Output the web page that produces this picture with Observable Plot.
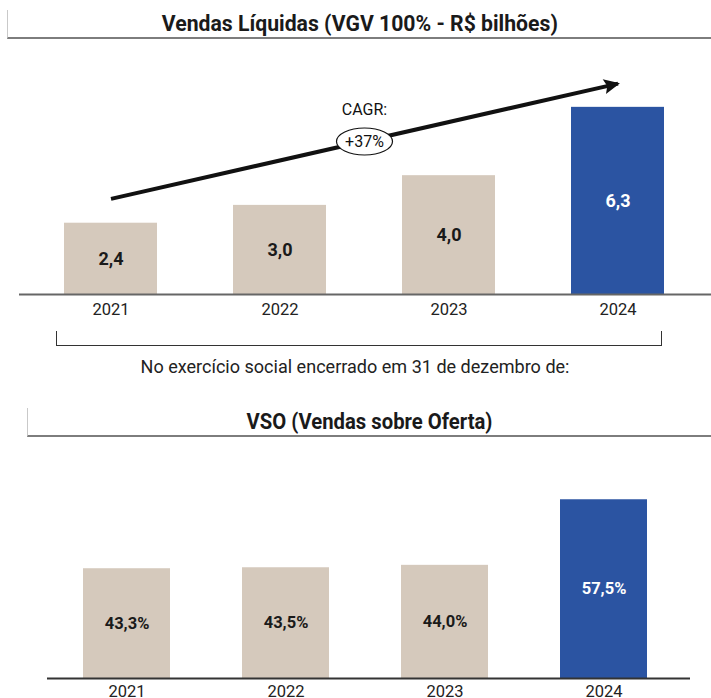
<!DOCTYPE html>
<html>
<head>
<meta charset="utf-8">
<script src="https://cdn.jsdelivr.net/npm/d3@7"></script>
<script src="https://cdn.jsdelivr.net/npm/@observablehq/plot@0.6"></script>
<style>
  body { margin: 0; background: #fff; font-family: Roboto, "Liberation Sans", sans-serif; }
  #wrap { position: relative; width: 711px; height: 698px; overflow: hidden; background: #fff; }
  .title { position: absolute; box-sizing: border-box; border-left: 1px solid #c9c9c9; border-bottom: 2.5px solid #7d7d7d;
           text-align: center; font-weight: 700; font-size: 21.5px; color: #1a1a1a; line-height: 28px; white-space: nowrap; }
  .fit { display: inline-block; transform-origin: center center; white-space: nowrap; }
  .caption { position: absolute; left: 0; width: 711px; text-align: center; font-size: 18px; color: #222; white-space: nowrap; }
  .bracket { position: absolute; box-sizing: border-box; border: 1.3px solid #333; border-top: none; }
  .plot { position: absolute; left: 0; }
</style>
</head>
<body>
<div id="wrap">
  <div class="title" style="left:7px;top:10px;width:704px;height:29px;"><span class="fit" data-w="396">Vendas Líquidas (VGV 100% - R$ bilhões)</span></div>
  <div id="p1" class="plot" style="top:40px;"></div>
  <div class="bracket" style="left:56px;top:331px;width:606px;height:15px;"></div>
  <div class="caption" style="top:356px;"><span class="fit" data-w="429">No exercício social encerrado em 31 de dezembro de:</span></div>
  <div class="title" style="left:27px;top:408px;width:684px;height:29px;"><span class="fit" data-w="246">VSO (Vendas sobre Oferta)</span></div>
  <div id="p2" class="plot" style="top:440px;"></div>
</div>
<script>
// ---- data ----
const years = ["2021", "2022", "2023", "2024"];
const vendas = [2.4, 3.0, 4.0, 6.3];
const vendasLabels = ["2,4", "3,0", "4,0", "6,3"];
const vso = [43.3, 43.5, 44.0, 57.5];
const vsoLabels = ["43,3%", "43,5%", "44,0%", "57,5%"];
const highlighted = [false, false, false, true];
const cagrLabel = "CAGR:";
const cagrValue = "+37%";
// annotation anchors (data units of the first chart)
const cagrArrow = [{from: "2021", to: "2024", y1: 3.22, y2: 7.1}];
const cagrTextY = [6.22];
const cagrBadgeY = [5.15];

const beige = "#d5c9bc";
const blue = "#2b54a2";

const d1 = years.map((year, i) => ({year, v: vendas[i], label: vendasLabels[i], hi: highlighted[i]}));
const d2 = years.map((year, i) => ({year, v: vso[i], label: vsoLabels[i], hi: highlighted[i]}));

// ellipse symbol for the CAGR badge
const ellipse = {
  draw(ctx) {
    const rx = 28, ry = 13.5, k = 0.5523;
    ctx.moveTo(rx, 0);
    ctx.bezierCurveTo(rx, k * ry, k * rx, ry, 0, ry);
    ctx.bezierCurveTo(-k * rx, ry, -rx, k * ry, -rx, 0);
    ctx.bezierCurveTo(-rx, -k * ry, -k * rx, -ry, 0, -ry);
    ctx.bezierCurveTo(k * rx, -ry, rx, -k * ry, rx, 0);
    ctx.closePath();
  }
};
// filled arrowhead, tip at the origin, pointing right
const arrowHead = {
  draw(ctx) {
    ctx.moveTo(2, 0);
    ctx.lineTo(-14, -7.5);
    ctx.lineTo(-11, 0);
    ctx.lineTo(-14, 7.5);
    ctx.closePath();
  }
};

const p1 = Plot.plot({
  width: 711, height: 290,
  marginTop: 0, marginBottom: 36, marginLeft: 26, marginRight: 9,
  x: {domain: years, paddingInner: 0.45, paddingOuter: 0.225, label: null, tickSize: 0, tickPadding: 9},
  y: {domain: [0, 8.55], axis: null},
  color: {type: "identity"},
  style: {fontFamily: "Roboto, sans-serif", fontSize: "16.5px", color: "#222", background: "transparent"},
  marks: [
    Plot.barY(d1, {x: "year", y: "v", fill: d => d.hi ? blue : beige}),
    Plot.ruleY([0], {stroke: "#666", strokeWidth: 2, insetLeft: -7, insetRight: -9}),
    Plot.text(d1, {x: "year", y: d => d.v / 2, text: "label", fill: d => d.hi ? "#ffffff" : "#1a1a1a",
                   fontWeight: 700, fontSize: 18}),
    Plot.link(cagrArrow, {x1: "from", x2: "to", y1: "y1", y2: "y2", stroke: "#111", strokeWidth: 4}),
    Plot.dot(cagrArrow, {x: "to", y: "y2", symbol: arrowHead, rotate: -12.7, fill: "#111", stroke: "none"}),
    Plot.dot(cagrBadgeY, {y: d => d, frameAnchor: "middle", symbol: ellipse, fill: "#fff", stroke: "#111", strokeWidth: 1.2}),
    Plot.text(cagrBadgeY, {y: d => d, frameAnchor: "middle", text: () => cagrValue, fontSize: 16, fill: "#111"}),
    Plot.text(cagrTextY, {y: d => d, frameAnchor: "middle", text: () => cagrLabel, fontSize: 16, fill: "#111"})
  ]
});
document.getElementById("p1").appendChild(p1);

const vsoMin = 20.7;
const p2 = Plot.plot({
  width: 711, height: 258,
  marginTop: 0, marginBottom: 20, marginLeft: 47, marginRight: 28,
  x: {domain: years, paddingInner: 0.45, paddingOuter: 0.225, label: null, tickSize: 0, tickPadding: 7},
  y: {domain: [vsoMin, 69.7], axis: null},
  color: {type: "identity"},
  style: {fontFamily: "Roboto, sans-serif", fontSize: "16.5px", color: "#222", background: "transparent", overflow: "visible"},
  marks: [
    Plot.barY(d2, {x: "year", y1: () => vsoMin, y2: "v", fill: d => d.hi ? blue : beige}),
    Plot.ruleY([vsoMin], {stroke: "#333", strokeWidth: 2, insetRight: -7}),
    Plot.text(d2, {x: "year", y: d => (d.v + vsoMin) / 2, text: "label", fill: d => d.hi ? "#ffffff" : "#1a1a1a",
                   fontWeight: 700, fontSize: 16.5})
  ]
});
document.getElementById("p2").appendChild(p2);

// emulate the condensed typeface of the original for the HTML titles
document.querySelectorAll(".fit").forEach(el => {
  const target = +el.dataset.w;
  const w = el.getBoundingClientRect().width;
  if (w > 0) el.style.transform = `scaleX(${target / w})`;
});
</script>
</body>
</html>
